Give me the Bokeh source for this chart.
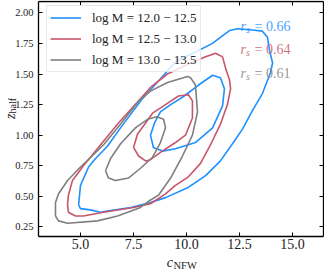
import math
from bokeh.plotting import figure
from bokeh.models import Range1d, LinearAxis, FixedTicker, Label, Legend, LegendItem, PrintfTickFormatter
from bokeh.embed import file_html
from bokeh.resources import INLINE

# ---------------- data ----------------
mass_labels = ["log M = 12.0 \u2212 12.5", "log M = 12.5 \u2212 13.0", "log M = 13.0 \u2212 13.5"]
colors = ["#1E90FF", "#C85569", "#7F7F7F"]
rs_values = [0.66, 0.64, 0.61]
x_ticks = [5.0, 7.5, 10.0, 12.5, 15.0]
y_ticks = [0.25, 0.50, 0.75, 1.00, 1.25, 1.50, 1.75, 2.00]

# outer / inner contour of each mass bin (c_NFW, z_half)
blue_outer_c = [4.91, 5.00, 5.47, 5.94, 6.27, 7.36, 8.30, 9.01, 10.05, 10.90, 11.60, 12.17, 12.64, 13.11, 13.58,
                13.96, 14.06, 13.92, 13.82, 13.58, 13.11, 12.41, 12.03, 11.60, 11.23, 10.19, 9.48, 8.92, 7.88,
                6.93, 6.27, 5.71, 5.38, 5.00]
blue_outer_z = [0.43, 0.40, 0.39, 0.37, 0.38, 0.41, 0.45, 0.49, 0.57, 0.67, 0.79, 0.93, 1.05, 1.20, 1.34,
                1.51, 1.59, 1.69, 1.80, 1.85, 1.86, 1.87, 1.855, 1.80, 1.75, 1.66, 1.60, 1.49, 1.29,
                1.07, 0.91, 0.81, 0.74, 0.59]
blue_inner_c = [8.30, 8.49, 8.77, 9.25, 9.81, 10.57, 11.23, 11.60, 11.79, 11.70, 11.23, 10.42, 9.48, 8.87, 8.44]
blue_inner_z = [1.00, 1.10, 1.19, 1.25, 1.31, 1.41, 1.49, 1.47, 1.38, 1.24, 1.06, 0.94, 0.89, 0.87, 0.90]

red_outer_c = [4.43, 4.76, 5.14, 6.08, 7.50, 8.30, 9.01, 9.48, 10.09, 10.66, 11.13, 11.60, 11.93, 12.08, 12.03,
               11.84, 11.70, 11.37, 10.90, 10.19, 9.10, 8.30, 7.69, 6.79, 5.94, 5.14, 4.62, 4.43, 4.39]
red_outer_z = [0.37, 0.34, 0.34, 0.37, 0.41, 0.44, 0.52, 0.59, 0.66, 0.77, 0.92, 1.09, 1.25, 1.38, 1.45,
               1.55, 1.64, 1.67, 1.64, 1.59, 1.50, 1.39, 1.27, 1.10, 0.92, 0.75, 0.63, 0.51, 0.43]
red_inner_c = [7.50, 7.69, 8.07, 8.40, 9.01, 9.62, 10.09, 10.28, 10.28, 9.95, 9.48, 8.77, 8.30, 8.07, 7.74]
red_inner_z = [0.90, 1.01, 1.10, 1.18, 1.25, 1.32, 1.33, 1.28, 1.14, 1.00, 0.94, 0.86, 0.80, 0.79, 0.83]

gray_outer_c = [3.82, 3.96, 4.39, 5.80, 6.75, 7.83, 8.21, 8.68, 9.25, 9.81, 10.28, 10.52, 10.42, 10.19, 10.05,
                9.10, 8.30, 7.74, 6.93, 6.13, 5.61, 5.00, 4.39, 3.96, 3.82]
gray_outer_z = [0.34, 0.30, 0.28, 0.30, 0.34, 0.41, 0.46, 0.51, 0.65, 0.83, 1.00, 1.19, 1.41, 1.47, 1.48,
                1.43, 1.36, 1.28, 1.10, 0.93, 0.84, 0.74, 0.63, 0.52, 0.45]
gray_inner_c = [6.18, 6.32, 6.65, 7.26, 7.83, 8.40, 8.77, 9.01, 8.92, 8.59, 8.16, 7.59, 6.89, 6.42]
gray_inner_z = [0.71, 0.65, 0.63, 0.65, 0.73, 0.82, 0.94, 1.06, 1.13, 1.15, 1.13, 1.06, 0.93, 0.81]

contours = [
    (blue_outer_c, blue_outer_z, blue_inner_c, blue_inner_z),
    (red_outer_c, red_outer_z, red_inner_c, red_inner_z),
    (gray_outer_c, gray_outer_z, gray_inner_c, gray_inner_z),
]

# visible axes box (data units)
X_LO, X_HI = 3.019, 16.46
Y_LO, Y_HI = 0.1724, 2.092

SERIF = "Liberation Serif"
INK = "#222222"

# frame covers the whole canvas; the axes are drawn at fixed locations inside it
p = figure(width=324, height=270, x_range=Range1d(1.2264, 16.509), y_range=Range1d(-0.1054, 2.1005),
           output_backend="svg", toolbar_location=None, x_axis_location=None, y_axis_location=None,
           min_border=0, min_border_left=0, min_border_right=0, min_border_top=0, min_border_bottom=0)
p.grid.visible = False
p.outline_line_color = None
p.background_fill_color = "white"
p.border_fill_color = "white"


def make_axis(ticks, fmt, loc, bounds, size=None, standoff=0):
    ax = LinearAxis(fixed_location=loc, bounds=bounds)
    ax.ticker = FixedTicker(ticks=ticks)
    ax.formatter = PrintfTickFormatter(format=fmt)
    ax.major_tick_in = 4
    ax.major_tick_out = 0
    ax.minor_tick_line_color = None
    ax.major_tick_line_color = "black"
    ax.major_tick_line_width = 1
    ax.axis_line_color = "black"
    ax.axis_line_width = 1.3
    ax.major_label_text_font = SERIF
    ax.major_label_standoff = standoff
    if size is None:
        ax.major_label_text_color = None
    else:
        ax.major_label_text_color = INK
        ax.major_label_text_font_size = size
    return ax


p.add_layout(make_axis(x_ticks, "%.1f", Y_LO, (X_LO, X_HI), "14px", 3), "below")
p.add_layout(make_axis(x_ticks, "%.1f", Y_HI, (X_LO, X_HI)), "above")
p.add_layout(make_axis(y_ticks, "%.2f", X_LO, (Y_LO, Y_HI), "10.5px", 5), "left")
p.add_layout(make_axis(y_ticks, "%.2f", X_HI, (Y_LO, Y_HI)), "right")

items = []
for label, color, (oc, oz, ic, iz) in zip(mass_labels, colors, contours):
    xs = [list(oc) + [oc[0]], list(ic) + [ic[0]]]
    ys = [list(oz) + [oz[0]], list(iz) + [iz[0]]]
    r = p.multi_line(xs=xs, ys=ys, line_color=color, line_width=1.6)
    items.append(LegendItem(label=label, renderers=[r]))

legend = Legend(items=items, location=(46, 198), label_text_font=SERIF, label_text_font_size="13px",
                label_text_color=INK, glyph_width=31, glyph_height=17, label_height=17, spacing=4, padding=3,
                label_standoff=11, border_line_color="#d4d4d4", border_line_width=1,
                background_fill_color="white", background_fill_alpha=0.8)
p.add_layout(legend)

# r_s annotations
rs_baselines = [1.888, 1.70, 1.504]
for v, yb, color in zip(rs_values, rs_baselines, colors):
    common = dict(x=12.55, y=yb, text_font=SERIF, text_color=color, text_alpha=0.85,
                  text_baseline="alphabetic", text_align="left")
    p.add_layout(Label(text="r", text_font_style="italic", text_font_size="14px", **common))
    p.add_layout(Label(text="s", text_font_style="italic", text_font_size="10px", x_offset=5.5, y_offset=-3, **common))
    p.add_layout(Label(text="= %.2f" % v, text_font_size="14px", x_offset=14, **common))

# axis titles
p.add_layout(Label(x=9.363, y=-0.036, text="c", text_font=SERIF, text_font_style="italic", text_font_size="14px",
                   text_align="right", text_baseline="alphabetic", text_color=INK))
p.add_layout(Label(x=9.363, y=-0.036, x_offset=0.5, y_offset=-3, text="NFW", text_font=SERIF, text_font_size="10.5px",
                   text_align="left", text_baseline="alphabetic", text_color=INK))
p.add_layout(Label(x=1.698, y=1.177, angle=math.pi / 2, text="z", text_font=SERIF, text_font_style="italic",
                   text_font_size="14px", text_align="right", text_baseline="alphabetic", text_color=INK))
p.add_layout(Label(x=1.698, y=1.177, angle=math.pi / 2, x_offset=2.5, text="half", text_font=SERIF,
                   text_font_size="10px", text_align="left", text_baseline="alphabetic", text_color=INK))

open("out.html", "w").write(file_html(p, INLINE))
